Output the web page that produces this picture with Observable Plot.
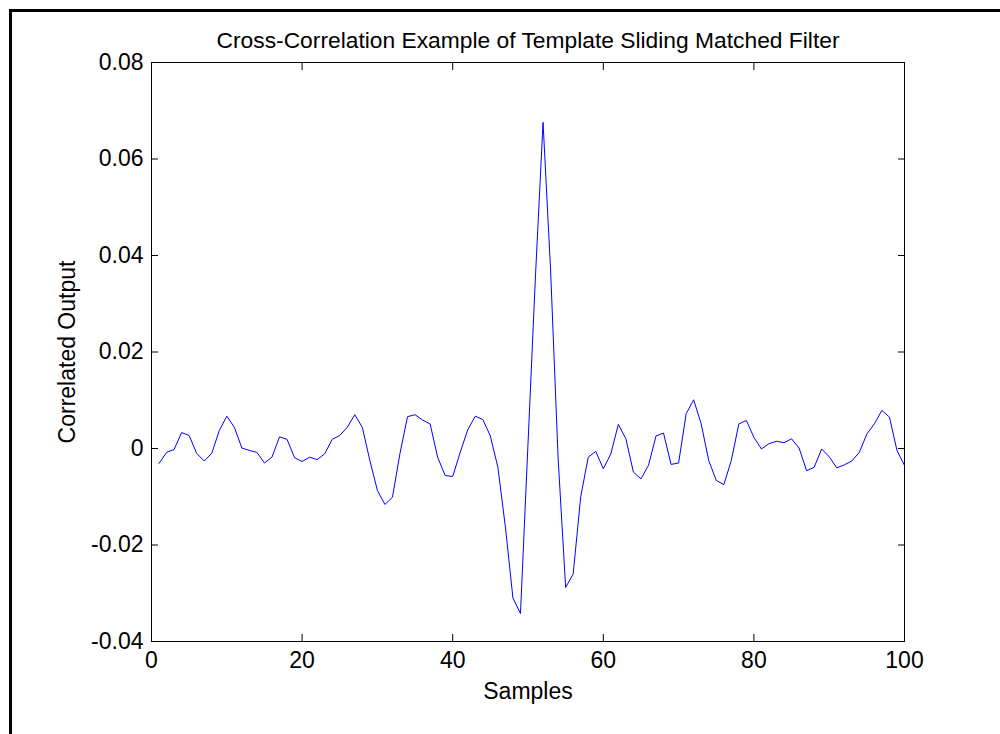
<!DOCTYPE html>
<html><head><meta charset="utf-8">
<script src="https://cdn.jsdelivr.net/npm/d3@7"></script>
<script src="https://cdn.jsdelivr.net/npm/@observablehq/plot@0.6"></script>
<style>
html,body{margin:0;padding:0;background:#fff;}
#wrap{position:relative;width:1000px;height:734px;overflow:hidden;background:#fff;}
#border{position:absolute;left:9px;top:9px;width:1100px;height:800px;border-left:3px solid #000;border-top:3px solid #000;pointer-events:none;z-index:2;}
#wrap svg{position:absolute;left:0;top:0;}
</style></head><body><div id="wrap"><div id="border"></div></div>
<script>
const title = "Cross-Correlation Example of Template Sliding Matched Filter";
const xLabel = "Samples";
const yLabel = "Correlated Output";
const xTicks = [0, 20, 40, 60, 80, 100];
const yTicks = [-0.04, -0.02, 0, 0.02, 0.04, 0.06, 0.08];
const values = [
  -0.0031, -0.0008, -0.0002, 0.0033, 0.0027, -0.0010, -0.0026, -0.0010, 0.0037, 0.0067,
   0.0044,  0.0001, -0.0004, -0.0008, -0.0030, -0.0018, 0.0024, 0.0019, -0.0019, -0.0027,
  -0.0018, -0.0023, -0.0011, 0.0019, 0.0027, 0.0044, 0.0070, 0.0044, -0.0025, -0.0087,
  -0.0116, -0.0101, -0.0010, 0.0066, 0.0070, 0.0059, 0.0051, -0.0018, -0.0056, -0.0058,
  -0.0008, 0.0039, 0.0067, 0.0060, 0.0026, -0.0039, -0.0163, -0.0310, -0.0342, 0.0010,
   0.0360, 0.0676, 0.0370, -0.0020, -0.0288, -0.0260, -0.0100, -0.0018, -0.0006, -0.0042,
  -0.0011, 0.0050, 0.0020, -0.0049, -0.0063, -0.0035, 0.0026, 0.0032, -0.0033, -0.0030,
   0.0072, 0.0101, 0.0051, -0.0025, -0.0066, -0.0075, -0.0025, 0.0051, 0.0058, 0.0023,
  -0.0001, 0.0010, 0.0015, 0.0012, 0.0020, 0.0001, -0.0046, -0.0039, -0.0001, -0.0017,
  -0.0040, -0.0034, -0.0026, -0.0008, 0.0030, 0.0051, 0.0079, 0.0065, -0.0004, -0.0035
];
const samples = values.map((_, i) => i + 1);
const data = samples.map((s, i) => ({s, v: values[i]}));
const fmtY = d => d === 0 ? "0" : d.toFixed(2);
const font = "'Liberation Sans', Arial, sans-serif";
const chart = Plot.plot({
  width: 1000, height: 734,
  marginLeft: 151, marginRight: 96, marginTop: 62, marginBottom: 93,
  style: {fontFamily: font, fontSize: "23px", color: "#000", background: "transparent"},
  x: {domain: [0, 100]},
  y: {domain: [-0.04, 0.08]},
  marks: [
    Plot.frame({stroke: "#000", strokeWidth: 1}),
    Plot.axisX(xTicks, {anchor: "bottom", tickSize: -7, tickPadding: 17, tickFormat: d => String(d),
      label: xLabel, labelAnchor: "center", labelOffset: 57, labelArrow: "none"}),
    Plot.axisX(xTicks, {anchor: "top", tickSize: -7, tickFormat: () => "", label: null}),
    Plot.axisY(yTicks, {anchor: "left", tickSize: -7, tickPadding: 15, tickFormat: fmtY,
      label: yLabel, labelAnchor: "center", labelOffset: 93, labelArrow: "none"}),
    Plot.axisY(yTicks, {anchor: "right", tickSize: -7, tickFormat: () => "", label: null}),
    Plot.line(data, {x: "s", y: "v", stroke: "#0000ff", strokeWidth: 1}),
    Plot.text([title], {frameAnchor: "top", dy: -31, fontSize: 22.8})
  ]
});
document.getElementById("wrap").appendChild(chart);
</script>
</body></html>
